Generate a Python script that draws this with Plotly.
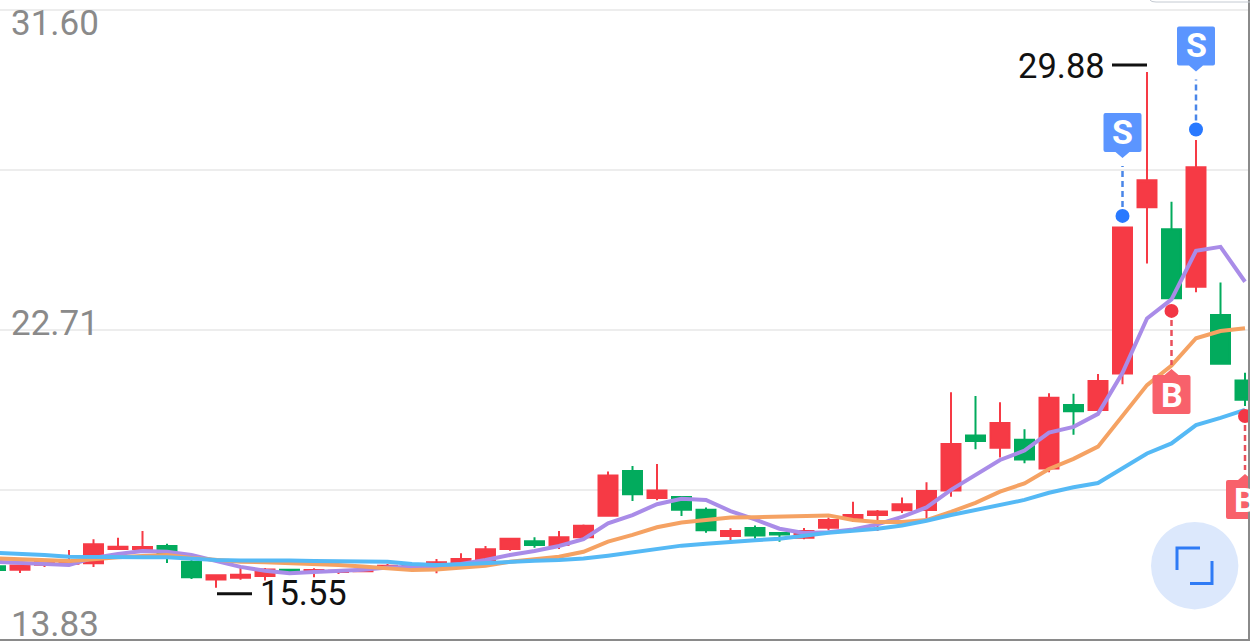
import plotly.graph_objects as go

W, H = 1250, 641

index = list(range(52))
opens = [16.15,16.05,16.19,16.22,16.23,16.63,16.63,16.71,16.27,15.78,15.83,15.88,16.05,15.99,15.99,16.01,16.13,16.16,16.13,16.21,
         16.30,16.63,16.84,16.74,16.95,17.55,18.79,18.04,18.07,17.72,16.99,17.21,17.07,16.94,17.22,17.46,17.57,17.70,17.71,18.25,
         19.78,19.44,19.66,18.86,20.63,20.49,21.50,26.12,25.51,23.91,23.13,21.31]
highs = [16.21,16.18,16.30,16.60,16.90,16.94,17.13,16.77,16.32,15.91,16.11,16.10,16.07,16.09,16.06,16.06,16.21,16.18,16.35,16.51,
         16.71,16.93,16.95,17.13,17.31,18.78,18.93,18.99,18.10,17.78,17.20,17.28,17.10,17.21,17.50,17.94,17.71,18.06,18.48,20.98,
         20.88,20.70,19.95,20.95,20.94,21.49,25.56,29.88,26.27,27.99,24.03,21.52]
lows = [15.99,15.96,16.13,16.21,16.13,16.60,16.60,16.24,15.79,15.55,15.77,15.75,15.99,15.84,15.93,15.99,16.09,16.11,15.95,16.15,
        16.27,16.58,16.66,16.63,16.93,17.54,17.96,17.98,17.54,17.08,16.88,16.91,16.83,16.90,17.15,17.38,17.13,17.63,17.48,18.08,
        19.40,19.17,19.01,18.76,19.80,20.46,21.20,24.56,23.59,23.76,21.77,20.60]
closes = [16.04,16.17,16.27,16.29,16.76,16.69,16.68,16.41,15.84,15.90,15.91,16.06,16.01,16.04,16.02,16.03,16.16,16.13,16.26,16.35,
          16.62,16.91,16.74,16.95,17.27,18.67,18.15,18.25,17.72,17.15,17.13,17.00,17.03,17.13,17.43,17.57,17.67,17.87,18.24,19.54,
          19.63,20.13,19.11,20.83,20.45,21.29,25.56,26.87,23.59,27.23,21.77,20.77]

ma_purple = [16.27,16.24,16.22,16.18,16.38,16.49,16.57,16.55,16.46,16.30,16.13,16.02,15.95,15.99,16.02,16.05,16.11,16.13,16.15,16.21,
             16.32,16.46,16.57,16.71,16.90,17.34,17.57,17.87,18.02,17.99,17.68,17.45,17.19,17.07,17.09,17.17,17.31,17.52,17.78,18.27,
             18.67,19.10,19.36,19.86,20.02,20.38,21.52,23.03,23.56,24.91,25.02,24.05]
ma_orange = [16.37,16.34,16.31,16.29,16.34,16.40,16.43,16.46,16.38,16.32,16.27,16.26,16.24,16.21,16.18,16.14,16.10,16.04,16.06,16.11,
             16.16,16.27,16.34,16.41,16.55,16.83,17.02,17.23,17.36,17.43,17.50,17.51,17.52,17.54,17.56,17.43,17.38,17.38,17.43,17.66,
             17.91,18.22,18.45,18.85,19.13,19.47,20.32,21.18,21.72,22.48,22.68,22.76]
ma_blue = [16.52,16.50,16.46,16.41,16.40,16.40,16.40,16.40,16.35,16.32,16.31,16.32,16.31,16.29,16.28,16.27,16.27,16.21,16.18,16.20,
           16.24,16.27,16.30,16.32,16.36,16.44,16.53,16.63,16.72,16.77,16.83,16.87,16.91,17.00,17.08,17.13,17.19,17.28,17.41,17.57,
           17.71,17.87,17.99,18.19,18.34,18.46,18.87,19.28,19.56,20.07,20.27,20.49]

grid_values = [31.60, 27.155, 22.71, 18.265]
axis_labels = ["31.60", "22.71", "13.83"]

sell_index = [46, 49]
sell_price = [25.88, 28.28]
buy_index = [48, 51]
buy_price = [23.24, 20.32]

high_mark_index, high_mark_value = 47, 29.88
low_mark_index, low_mark_value = 9, 15.55

RED, GREEN = "#F63A45", "#02AB5D"
FONT = "Roboto"


def px(x):
    return x / W


def py(y):
    return 1 - y / H


fig = go.Figure()
fig.add_trace(go.Candlestick(
    x=index, open=opens, high=highs, low=lows, close=closes,
    increasing=dict(line=dict(color=RED, width=2), fillcolor=RED),
    decreasing=dict(line=dict(color=GREEN, width=2), fillcolor=GREEN),
    whiskerwidth=0, showlegend=False, hoverinfo="skip",
))
for vals, col in ((ma_purple, "#A98CE8"), (ma_orange, "#F5A263"), (ma_blue, "#55B9F5")):
    fig.add_trace(go.Scatter(x=index, y=vals, mode="lines", line=dict(color=col, width=4),
                             showlegend=False, hoverinfo="skip"))
fig.add_trace(go.Scatter(x=sell_index, y=sell_price, mode="markers",
                         marker=dict(color="#2979FF", size=14), showlegend=False, hoverinfo="skip"))
fig.add_trace(go.Scatter(x=buy_index, y=buy_price, mode="markers",
                         marker=dict(color="#F23645", size=14), showlegend=False, hoverinfo="skip"))

shapes, annotations = [], []


def badge_path(sign):
    # sign=+1: badge above anchor, tip pointing down; sign=-1: below anchor, tip pointing up
    s = sign
    return (f"M 0 {58*s} L {-7} {64*s} L -17 {64*s} Q -19 {64*s} -19 {66*s} L -19 {101*s} Q -19 {103*s} -17 {103*s} "
            f"L 17 {103*s} Q 19 {103*s} 19 {101*s} L 19 {66*s} Q 19 {64*s} 17 {64*s} L 7 {64*s} Z")


def add_signal(i, price, letter, sign, fill, dash_col, d0, d1):
    shapes.append(dict(type="line", xref="x", yref="y", xsizemode="pixel", ysizemode="pixel",
                       xanchor=i, yanchor=price, x0=0, x1=0, y0=d0 * sign, y1=d1 * sign,
                       line=dict(color=dash_col, width=2.5, dash="6px,4px")))
    shapes.append(dict(type="path", xref="x", yref="y", xsizemode="pixel", ysizemode="pixel",
                       xanchor=i, yanchor=price, path=badge_path(sign), fillcolor=fill, line=dict(width=0)))
    annotations.append(dict(x=i, y=price, xref="x", yref="y", yshift=84 * sign, text=f"<b>{letter}</b>",
                            showarrow=False, font=dict(family=FONT, size=34, color="white")))


for i, p in zip(sell_index, sell_price):
    add_signal(i, p, "S", 1, "#5B95FF", "#4A86E8", 9, 50)
for i, p in zip(buy_index, buy_price):
    add_signal(i, p, "B", -1, "#F8616B", "#E9505C", 9, 54)

# High / low call-outs
shapes.append(dict(type="line", xref="x", yref="y", xsizemode="pixel", ysizemode="pixel",
                   xanchor=high_mark_index, yanchor=high_mark_value, x0=-35, x1=0, y0=7, y1=7,
                   line=dict(color="#111111", width=3)))
annotations.append(dict(x=high_mark_index, y=high_mark_value, xref="x", yref="y", xanchor="right",
                        xshift=-40, yshift=6, text=f"{high_mark_value:.2f}", showarrow=False,
                        font=dict(family=FONT, size=34.5, color="#111111")))
shapes.append(dict(type="line", xref="x", yref="y", xsizemode="pixel", ysizemode="pixel",
                   xanchor=low_mark_index, yanchor=low_mark_value, x0=1, x1=36, y0=-6, y1=-6,
                   line=dict(color="#111111", width=3)))
annotations.append(dict(x=low_mark_index, y=low_mark_value, xref="x", yref="y", xanchor="left",
                        xshift=42, yshift=-5, text=f"{low_mark_value:.2f}", showarrow=False,
                        font=dict(family=FONT, size=34.5, color="#111111")))

# Axis labels
for txt, yc in zip(axis_labels, (23.5, 323.5, 624)):
    annotations.append(dict(x=px(9), y=py(yc), xref="paper", yref="paper", xanchor="left", yanchor="middle",
                            text=txt, showarrow=False, font=dict(family=FONT, size=35, color="#8A8A8A")))

# Frame
shapes.append(dict(type="line", xref="paper", yref="paper", x0=0, x1=1, y0=py(640), y1=py(640),
                   line=dict(color="#8A8A8A", width=2)))
shapes.append(dict(type="line", xref="paper", yref="paper", x0=px(1249), x1=px(1249), y0=0, y1=1,
                   line=dict(color="#8A8A8A", width=2)))
shapes.append(dict(type="path", xref="paper", yref="paper",
                   path=f"M {px(1150)} {py(0)} Q {px(1151)} {py(2)} {px(1156)} {py(2)} L {px(1250)} {py(2)}",
                   line=dict(color="#C4CAD2", width=1)))

# Expand button
shapes.append(dict(type="circle", xref="paper", yref="paper", x0=px(1151), x1=px(1238.4),
                   y0=py(609.4), y1=py(522), fillcolor="#DCE8FC", line=dict(width=0)))
shapes.append(dict(type="path", xref="paper", yref="paper",
                   path=f"M {px(1177)} {py(570)} L {px(1177)} {py(548)} L {px(1200)} {py(548)}",
                   line=dict(color="#2F7BF5", width=3)))
shapes.append(dict(type="path", xref="paper", yref="paper",
                   path=f"M {px(1212)} {py(561)} L {px(1212)} {py(583.5)} L {px(1190)} {py(583.5)}",
                   line=dict(color="#2F7BF5", width=3)))

fig.update_layout(
    width=W, height=H, margin=dict(l=0, r=0, t=0, b=0),
    paper_bgcolor="white", plot_bgcolor="white", showlegend=False,
    boxgap=0.225, boxgroupgap=0,
    xaxis=dict(range=[4.5 / 24.5, (W + 4.5) / 24.5], visible=False, rangeslider=dict(visible=False)),
    yaxis=dict(range=[31.8767 - H / 36, 31.8767], tickvals=grid_values, showticklabels=False,
               showgrid=True, gridcolor="#EDEDED", gridwidth=2, zeroline=False, ticks=""),
    shapes=shapes, annotations=annotations,
)
fig.write_html("out.html", config=dict(displayModeBar=False),
               post_script="document.body.style.margin='0';document.body.style.overflow='hidden';")
